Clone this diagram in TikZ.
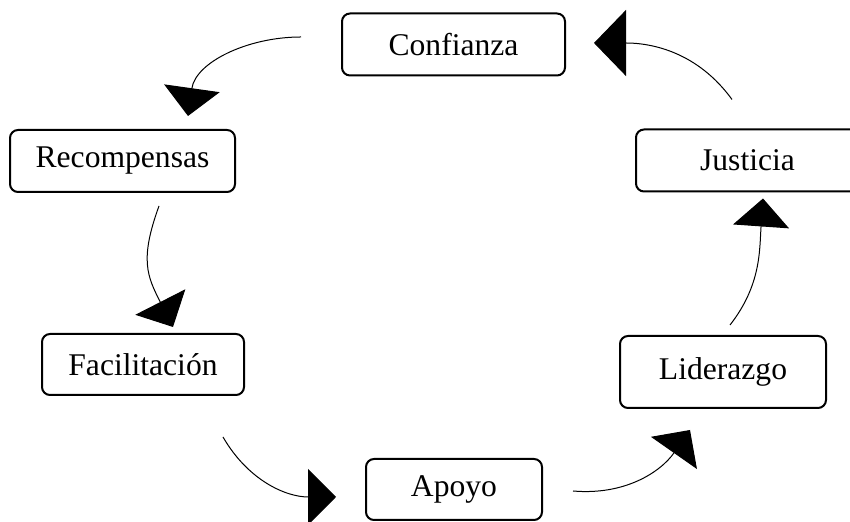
\documentclass[tikz,border=0pt]{standalone}
\usepackage{fontspec}
\setmainfont{Liberation Serif}
\usepackage{tikz}
\usetikzlibrary{arrows.meta, positioning, calc}

\begin{document}
\begin{tikzpicture}[
    x=0.5pt, y=0.5pt,
    box/.style={rectangle, rounded corners=4pt, draw=black, line width=1pt, minimum height=31pt, inner sep=0pt, align=center, font=\fontsize{15.8}{19}\selectfont},
    arrow/.style={-{Triangle[length=14pt, width=28pt]}, line width=0.5pt}
]
\clip (0,0) rectangle (850,522);

\node[box, minimum width=111.5pt] (confianza) at (453.5,477.5) {Confianza};
\node[box, minimum width=112.5pt] (recompensas) at (122.5,361) {Recompensas};
\node[box, minimum width=111.5pt] (justicia) at (747.5,361.5) {Justicia};
\node[box, minimum width=101pt, minimum height=30.5pt] (facilitacion) at (143,157.5) {Facilitación};
\node[box, minimum width=103pt, minimum height=36pt] (liderazgo) at (723,150) {Liderazgo};
\node[box, minimum width=88pt, minimum height=30.5pt] (apoyo) at (454,32.5) {Apoyo};

\draw[arrow] ($(confianza.west)+(-40,7.5)$) to[out=180, in=82] ($(recompensas.north)+(65.5,13)$);
\draw[arrow] ($(recompensas.south)+(36.5,-13)$) to[out=250, in=117, looseness=1.2] ($(facilitacion.north)+(30,6)$);
\draw[arrow] ($(facilitacion.south)+(80,-41)$) to[out=300, in=180] ($(apoyo.west)+(-29,-7.5)$);
\draw[arrow] ($(apoyo.east)+(30,-1.5)$) to[out=-5, in=235] ($(liderazgo.south)+(-33,-21)$);
\draw[arrow] ($(liderazgo.north)+(7,10)$) to[out=52, in=266] ($(justicia.south)+(15.5,-6)$);
\draw[arrow, -{Triangle[length=16pt, width=33pt]}] ($(justicia.north)+(-15.5,29)$) to[out=126, in=0] ($(confianza.east)+(28,1.5)$);

\end{tikzpicture}
\end{document}
